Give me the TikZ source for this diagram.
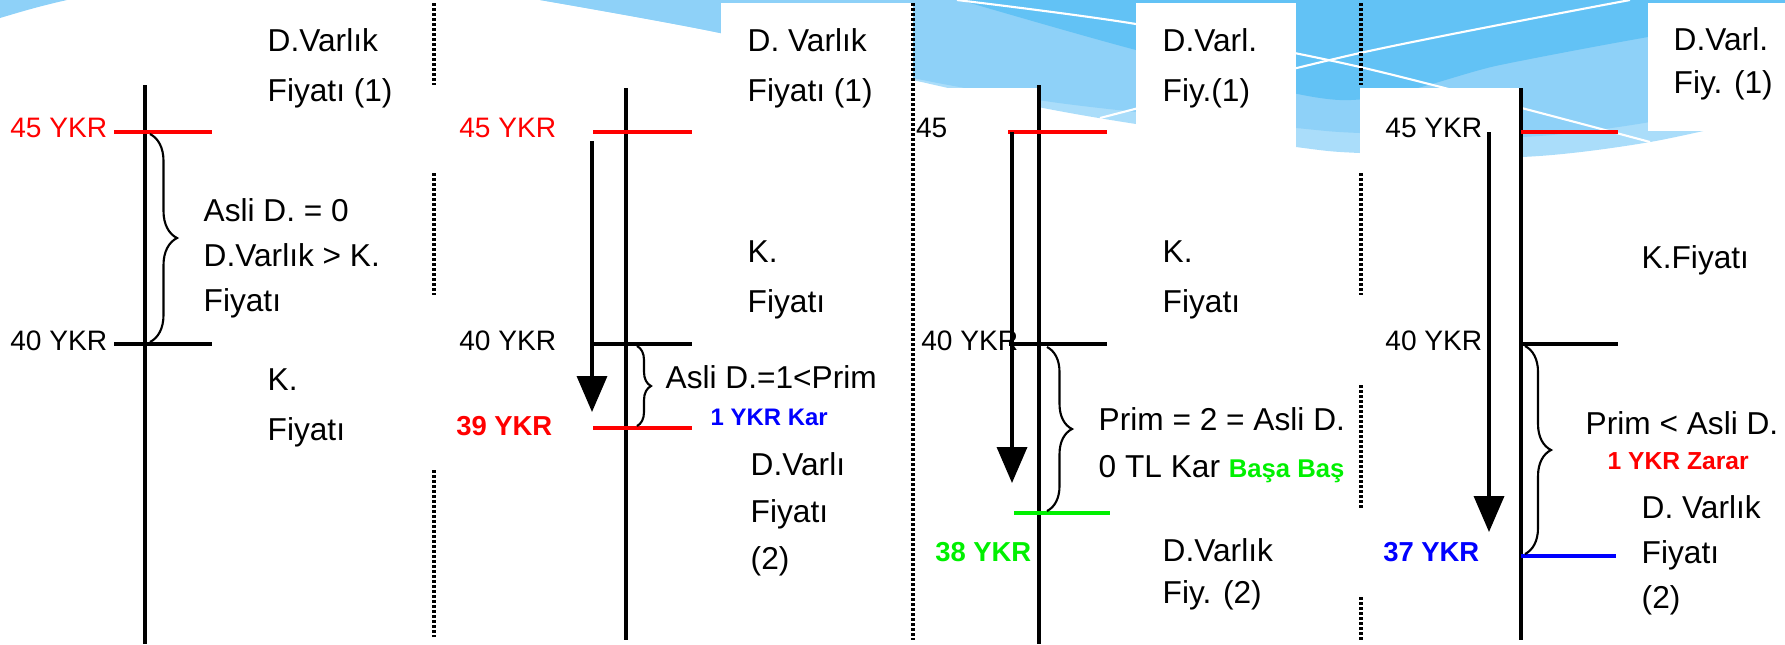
\documentclass[tikz,border=0pt]{standalone}
\usepackage{fontspec}
\setmainfont{Liberation Sans}
\usepackage{tikz}
\usetikzlibrary{arrows.meta,decorations.pathreplacing,positioning}

\definecolor{skyA}{HTML}{8ED1F8}
\definecolor{skyB}{HTML}{62C2F5}
\definecolor{skyC}{HTML}{AADDFA}
\definecolor{ykrgreen}{HTML}{00F000}

\tikzstyle{pole} = [line width=0.9pt]
\tikzstyle{priceline} = [line width=1pt]
\tikzstyle{drop} = [line width=1pt,-{Triangle[width=0.3cm,length=0.36cm]}]
\tikzstyle{brc} = [line width=0.6pt,decorate]
\tikzstyle{divider} = [line width=1pt,dash pattern=on 0.025cm off 0.025cm]
\tikzstyle{lbl} = [inner sep=0pt,anchor=east,font=\fontsize{8}{10}\selectfont]
\tikzstyle{blbl} = [inner sep=0pt,anchor=east,font=\bfseries\fontsize{7.8}{10}\selectfont]
\tikzstyle{txt} = [inner sep=0pt,anchor=north west,align=left,font=\fontsize{9}{14.2}\selectfont]
\tikzstyle{note} = [inner sep=0pt,anchor=west,font=\bfseries\fontsize{7}{9}\selectfont]
\tikzstyle{paper} = [fill=white,draw=none]

\begin{document}
\begin{tikzpicture}[x=0.01cm,y=-0.01cm]
    \useasboundingbox (0,0) rectangle (1785,644);

    % Background
    \fill[skyA] (0,0) -- (67,0) .. controls (40,6) and (20,12) .. (0,18) -- cycle;
    \fill[skyC] plot[smooth] coordinates {(540,0) (720,33) (913,80) (1038,107) (1136,124) (1296,147) (1360,153) (1521,157) (1650,142) (1785,112)} -- (1785,0) -- cycle;
    \fill[skyA] plot[smooth] coordinates {(540,0) (720,33) (913,78) (1038,100) (1136,112) (1296,128) (1360,133) (1521,137) (1650,122) (1785,92)} -- (1785,0) -- cycle;
    \fill[skyB] plot[smooth] coordinates {(960,0) (1136,50) (1340,100) (1500,65) (1648,37) (1785,15)} -- (1785,0) -- cycle;
    \draw[white,line width=0.6pt] plot[smooth] coordinates {(957,0) (1136,24) (1360,67) (1650,142)};
    \draw[white,line width=0.6pt] plot[smooth] coordinates {(1100,118) (1360,53) (1630,0)};
    \fill[paper] (721,3) rectangle (913,170);
    \fill[paper] (940,88) rectangle (1038,170);
    \fill[paper] (1136,3) rectangle (1296,147);
    \fill[paper] (1360,88) rectangle (1521,175);
    \fill[paper] (1648,3) rectangle (1785,131);

    % Dividers
    \coordinate (d1a) at (434,3);    \coordinate (d1b) at (434,85);
    \coordinate (d1c) at (434,173);  \coordinate (d1d) at (434,295);
    \coordinate (d1e) at (434,470);  \coordinate (d1f) at (434,637);
    \coordinate (d2a) at (913,3);    \coordinate (d2b) at (913,640);
    \coordinate (d3a) at (1361,3);   \coordinate (d3b) at (1361,85);
    \coordinate (d3c) at (1361,173); \coordinate (d3d) at (1361,295);
    \coordinate (d3e) at (1361,385); \coordinate (d3f) at (1361,510);
    \coordinate (d3g) at (1361,597); \coordinate (d3h) at (1361,640);
    \draw[divider] (d1a) -- (d1b);
    \draw[divider] (d1c) -- (d1d);
    \draw[divider] (d1e) -- (d1f);
    \draw[divider] (d2a) -- (d2b);
    \draw[divider] (d3a) -- (d3b);
    \draw[divider] (d3c) -- (d3d);
    \draw[divider] (d3e) -- (d3f);
    \draw[divider] (d3g) -- (d3h);

    % Panel 1
    \node[lbl,red] (p1hi) at (108,128) {45 YKR};
    \node[lbl] (p1lo) at (108,341) {40 YKR};
    \node[txt] (p1top) at (267,28) {D.Varlık\\Fiyatı (1)};
    \node[txt,font=\fontsize{9}{12.8}\selectfont] (p1gap) at (203,198) {Asli D. = 0\\D.Varlık > K.\\Fiyatı};
    \node[txt] (p1low) at (267,368) {K.\\Fiyatı};
    \coordinate (a1t) at (145,85);  \coordinate (a1b) at (145,644);
    \coordinate (h1s) at (114,132); \coordinate (h1e) at (212,132);
    \coordinate (l1s) at (114,344); \coordinate (l1e) at (212,344);
    \coordinate (b1t) at (150,134); \coordinate (b1b) at (150,342);
    \draw[pole] (a1t) -- (a1b);
    \draw[priceline,red] (h1s) -- (h1e);
    \draw[priceline] (l1s) -- (l1e);
    \draw[brc,decoration={brace,amplitude=0.27cm}] (b1t) -- (b1b);

    % Panel 2
    \node[lbl,red] (p2hi) at (557,128) {45 YKR};
    \node[lbl] (p2lo) at (557,341) {40 YKR};
    \node[blbl,red] (p2new) at (553,426) {39 YKR};
    \node[txt] (p2top) at (747,28) {D. Varlık\\Fiyatı (1)};
    \node[txt] (p2mid) at (747,240) {K.\\Fiyatı};
    \node[txt] (p2gap) at (665,365) {Asli D.=1<Prim};
    \node[note,blue,font=\bfseries\fontsize{6.8}{9}\selectfont] (p2res) at (710,417) {1 YKR Kar};
    \node[txt,font=\fontsize{9}{13.3}\selectfont] (p2bot) at (750,452) {D.Varlı\\Fiyatı\\(2)};
    \coordinate (a2t) at (626,88);  \coordinate (a2b) at (626,640);
    \coordinate (h2s) at (593,132); \coordinate (h2e) at (692,132);
    \coordinate (l2s) at (592,344); \coordinate (l2e) at (692,344);
    \coordinate (n2s) at (593,428); \coordinate (n2e) at (692,428);
    \coordinate (f2t) at (592,141); \coordinate (f2b) at (592,412);
    \coordinate (b2t) at (637,346); \coordinate (b2b) at (637,426);
    \draw[pole] (a2t) -- (a2b);
    \draw[priceline,red] (h2s) -- (h2e);
    \draw[priceline] (l2s) -- (l2e);
    \draw[priceline,red] (n2s) -- (n2e);
    \draw[drop] (f2t) -- (f2b);
    \draw[brc,decoration={brace,amplitude=0.14cm}] (b2t) -- (b2b);

    % Panel 3
    \node[lbl] (p3hi) at (948,128) {45};
    \node[lbl] (p3lo) at (1019,341) {40 YKR};
    \node[blbl,ykrgreen] (p3new) at (1032,552) {38 YKR};
    \node[txt] (p3top) at (1162,28) {D.Varl.\\Fiy.(1)};
    \node[txt] (p3mid) at (1162,240) {K.\\Fiyatı};
    \node[txt,font=\fontsize{9}{13.3}\selectfont] (p3gap) at (1098,407) {Prim = 2 = Asli D.\\0 TL Kar {\color{ykrgreen}\bfseries\fontsize{7.3}{9}\selectfont Başa Baş}};
    \node[txt,font=\fontsize{9}{11.9}\selectfont] (p3bot) at (1162,538) {D.Varlık\\Fiy. (2)};
    \coordinate (a3t) at (1039,85);  \coordinate (a3b) at (1039,644);
    \coordinate (h3s) at (1008,132); \coordinate (h3e) at (1107,132);
    \coordinate (l3s) at (1009,344); \coordinate (l3e) at (1107,344);
    \coordinate (n3s) at (1014,513); \coordinate (n3e) at (1110,513);
    \coordinate (f3t) at (1012,132); \coordinate (f3b) at (1012,483);
    \coordinate (b3t) at (1047,347); \coordinate (b3b) at (1047,511);
    \draw[pole] (a3t) -- (a3b);
    \draw[priceline,red] (h3s) -- (h3e);
    \draw[priceline] (l3s) -- (l3e);
    \draw[priceline,ykrgreen] (n3s) -- (n3e);
    \draw[drop] (f3t) -- (f3b);
    \draw[brc,decoration={brace,amplitude=0.25cm}] (b3t) -- (b3b);

    % Panel 4
    \node[lbl] (p4hi) at (1483,128) {45 YKR};
    \node[lbl] (p4lo) at (1483,341) {40 YKR};
    \node[blbl,blue] (p4new) at (1480,552) {37 YKR};
    \node[txt,font=\fontsize{9}{12.3}\selectfont] (p4top) at (1673,27) {D.Varl.\\Fiy. (1)};
    \node[txt] (p4mid) at (1641,245) {K.Fiyatı};
    \node[txt] (p4gap) at (1585,411) {Prim < Asli D.};
    \node[note,red] (p4res) at (1607,461) {1 YKR Zarar};
    \node[txt,font=\fontsize{9}{12.8}\selectfont] (p4bot) at (1641,495) {D. Varlık\\Fiyatı\\(2)};
    \coordinate (a4t) at (1521,88);  \coordinate (a4b) at (1521,640);
    \coordinate (h4s) at (1521,132); \coordinate (h4e) at (1618,132);
    \coordinate (l4s) at (1521,344); \coordinate (l4e) at (1618,344);
    \coordinate (n4s) at (1521,556); \coordinate (n4e) at (1616,556);
    \coordinate (f4t) at (1489,132); \coordinate (f4b) at (1489,532);
    \coordinate (b4t) at (1525,346); \coordinate (b4b) at (1525,554);
    \draw[pole] (a4t) -- (a4b);
    \draw[priceline,red] (h4s) -- (h4e);
    \draw[priceline] (l4s) -- (l4e);
    \draw[priceline,blue] (n4s) -- (n4e);
    \draw[drop] (f4t) -- (f4b);
    \draw[brc,decoration={brace,amplitude=0.26cm}] (b4t) -- (b4b);
\end{tikzpicture}
\end{document}
